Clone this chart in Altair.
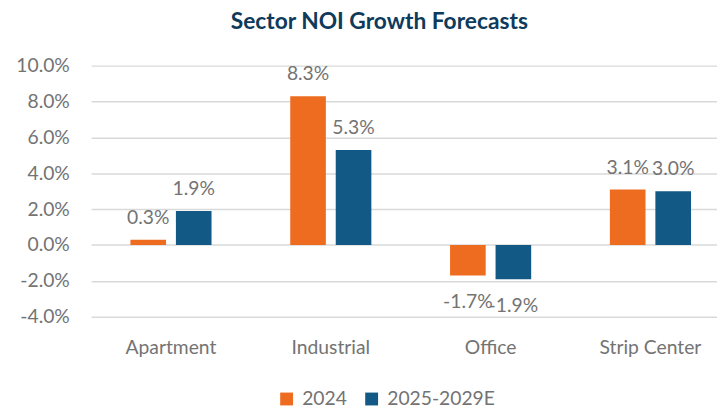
import altair as alt
import pandas as pd

sectors = ["Apartment", "Industrial", "Office", "Strip Center"]
series = ["2024", "2025-2029E"]
values_2024 = [0.3, 8.3, -1.7, 3.1]
values_2025_2029 = [1.9, 5.3, -1.9, 3.0]
y_ticks = [-4, -2, 0, 2, 4, 6, 8, 10]

rows = []
for s, a, b in zip(sectors, values_2024, values_2025_2029):
    rows.append({"sector": s, "series": series[0], "value": a / 100})
    rows.append({"sector": s, "series": series[1], "value": b / 100})
df = pd.DataFrame(rows)

ORANGE = "#EE6C1F"
BLUE = "#135985"
GRAY = "#737373"
FONT = "Lato"

x = alt.X("sector:N", sort=sectors, title=None,
          scale=alt.Scale(paddingInner=0, paddingOuter=0, range=[0, 646.5]),
          axis=alt.Axis(labelAngle=0, ticks=False, domain=False, grid=False,
                        labelFont=FONT, labelFontSize=19.5, labelColor=GRAY,
                        labelBaseline="alphabetic", labelPadding=37))
xoff = alt.XOffset("series:N", sort=series,
                   scale=alt.Scale(paddingInner=0.217, paddingOuter=0.865))
y = alt.Y("value:Q", title=None,
          scale=alt.Scale(domain=[-0.04, 0.10], nice=False, zero=False),
          axis=alt.Axis(values=[t / 100 for t in y_ticks], format=".1%",
                        labelExpr="replace(datum.label, '\u2212', '-')",
                        labelOverlap=False, tickCount=8,
                        ticks=False, domain=False, grid=True,
                        gridColor="#d9d9d9", gridWidth=1.5,
                        labelFont=FONT, labelFontSize=19.5, labelColor=GRAY,
                        labelPadding=22))
color = alt.Color("series:N", sort=series,
                  scale=alt.Scale(domain=series, range=[ORANGE, BLUE]),
                  legend=alt.Legend(title=None, orient="none", direction="horizontal",
                                    legendX=188, legendY=327, padding=0,
                                    symbolType="square", symbolSize=169,
                                    symbolStrokeWidth=0, labelOffset=6,
                                    columnPadding=15, labelFont=FONT,
                                    labelFontSize=19.5, labelColor=GRAY))

base = alt.Chart(df).encode(x=x, xOffset=xoff, y=y).transform_calculate(
    label="replace(format(datum.value, '.1%'), '\u2212', '-')"
)

bars = base.mark_bar().encode(color=color)

pos_labels = base.transform_filter("datum.value >= 0").mark_text(
    font=FONT, fontSize=19.5, color=GRAY, baseline="alphabetic", dy=-16
).encode(text="label:N")

neg_labels = base.transform_filter("datum.value < 0").mark_text(
    font=FONT, fontSize=19.5, color=GRAY, baseline="alphabetic", dy=33
).encode(text="label:N")

chart = alt.layer(bars, pos_labels, neg_labels).properties(
    width=633, height=254,
    autosize=alt.AutoSizeParams(type="none"),
    padding={"left": 84, "top": 56, "right": 0, "bottom": 95},
    title=alt.TitleParams("Sector NOI Growth Forecasts", font=FONT, fontSize=23,
                          fontWeight="bold", color="#0E3A5B", anchor="middle",
                          baseline="alphabetic", offset=4, dx=-25),
).configure_view(stroke=None)

chart.save("out.html", embed_options={"renderer": "svg", "actions": False})
